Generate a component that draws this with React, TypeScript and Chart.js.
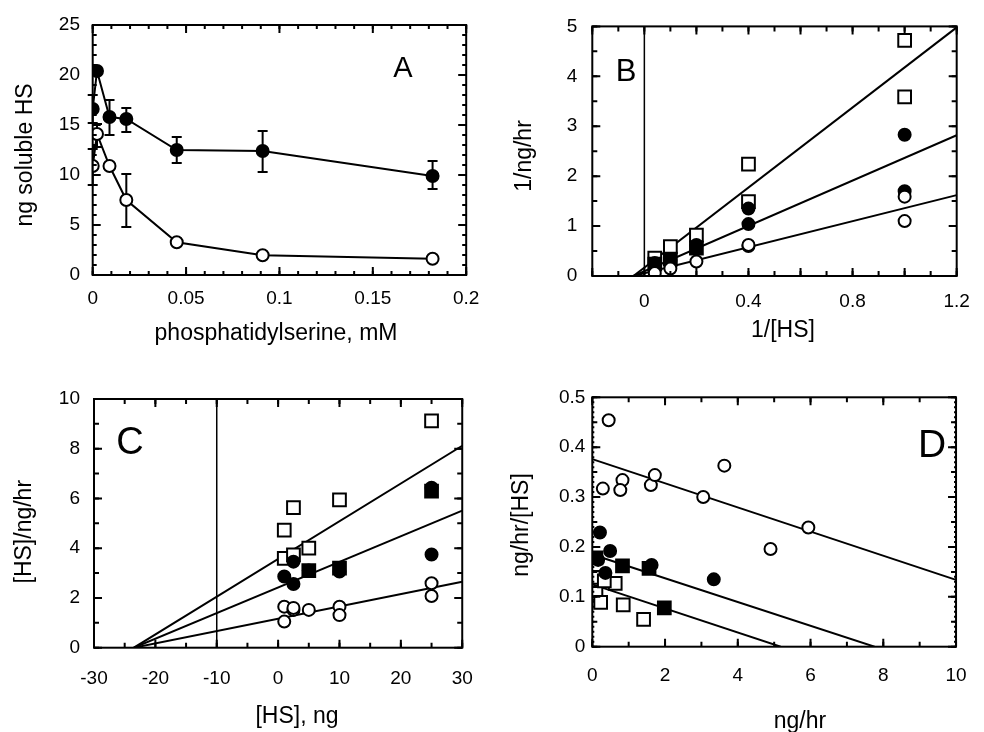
import React, { useEffect, useRef } from 'react';
import { Chart, registerables } from 'chart.js';
Chart.register(...registerables);

const FONT = '"Liberation Sans", Arial, Helvetica, sans-serif';

// ---------------- Panel A ----------------
const psConcA = [0, 0.0023, 0.009, 0.018, 0.045, 0.091, 0.182];
const solubleFilledA = [16.6, 20.4, 15.8, 15.6, 12.5, 12.4, 9.9];
const solubleOpenA = [10.9, 14.1, 10.9, 7.5, 3.27, 1.97, 1.63];
const filledHiA = [18.0, null, 17.5, 16.7, 13.8, 14.4, 11.4];
const filledLoA = [15.2, null, 14.0, 14.3, 11.2, 10.3, 8.6];
const openHiA = [12.6, 15.1, null, 10.1, null, null, null];
const openLoA = [9.0, 12.8, null, 4.8, null, null, null];
const xTicksA = [0, 0.05, 0.1, 0.15, 0.2];
const xTickLabelsA = ['0', '0.05', '0.1', '0.15', '0.2'];
const yTicksA = [0, 5, 10, 15, 20, 25];
const yTickLabelsA = ['0', '5', '10', '15', '20', '25'];

// ---------------- Panel B (1/v vs 1/[HS]) ----------------
const openSqXB = [1, 1, 0.4, 0.4, 0.2, 0.1, 0.04];
const openSqYB = [4.72, 3.59, 2.24, 1.49, 0.82, 0.59, 0.36];
const filledSqXB = [0.2, 0.1, 0.04];
const filledSqYB = [0.56, 0.34, 0.24];
const filledCircXB = [1, 1, 0.4, 0.4, 0.2, 0.1, 0.04];
const filledCircYB = [2.83, 1.7, 1.35, 1.04, 0.62, 0.31, 0.26];
const openCircXB = [1, 1, 0.4, 0.4, 0.2, 0.1, 0.04];
const openCircYB = [1.59, 1.1, 0.6, 0.62, 0.29, 0.15, 0.06];
const fitXB = [-0.042, 1.2];
const fitUpperB = [0, 4.98];
const fitMiddleB = [0, 2.82];
const fitLowerB = [0, 1.62];
const refXB = [0, 0];
const refYB = [0, 5];
const xTicksB = [0, 0.4, 0.8, 1.2];
const xTickLabelsB = ['0', '0.4', '0.8', '1.2'];
const yTicksB = [0, 1, 2, 3, 4, 5];
const yTickLabelsB = ['0', '1', '2', '3', '4', '5'];

// ---------------- Panel C ([HS]/v vs [HS]) ----------------
const openSqXC = [1, 1, 2.5, 2.5, 5, 10, 25];
const openSqYC = [4.73, 3.59, 5.63, 3.73, 4.0, 5.94, 9.12];
const filledSqXC = [5, 10, 25];
const filledSqYC = [3.1, 3.2, 6.3];
const filledCircXC = [1, 2.5, 2.5, 5, 10, 25, 25];
const filledCircYC = [2.86, 3.46, 2.56, 3.1, 3.06, 3.75, 6.43];
const openCircXC = [1, 1, 2.5, 2.5, 5, 10, 10, 25, 25];
const openCircYC = [1.65, 1.05, 1.52, 1.6, 1.52, 1.65, 1.31, 2.59, 2.08];
const fitXC = [-23.5, 30];
const fitUpperC = [0, 8.12];
const fitMiddleC = [0, 5.51];
const fitLowerC = [0, 2.65];
const refXC = [-10, -10];
const refYC = [0, 10];
const xTicksC = [-30, -20, -10, 0, 10, 20, 30];
const xTickLabelsC = ['-30', '-20', '-10', '0', '10', '20', '30'];
const yTicksC = [0, 2, 4, 6, 8, 10];
const yTickLabelsC = ['0', '2', '4', '6', '8', '10'];

// ---------------- Panel D (v/[HS] vs v) ----------------
const openCircXD = [0.45, 0.29, 0.83, 0.77, 1.61, 1.72, 3.05, 3.63, 4.9, 5.94];
const openCircYD = [0.454, 0.317, 0.334, 0.314, 0.324, 0.344, 0.3, 0.363, 0.196, 0.239];
const filledCircXD = [0.21, 0.49, 0.16, 0.36, 1.63, 3.34];
const filledCircYD = [0.229, 0.192, 0.174, 0.148, 0.164, 0.135];
const filledSqXD = [0.83, 1.56, 1.98, 0.1];
const filledSqYD = [0.162, 0.157, 0.078, 0.178];
const openSqXD = [0.07, 0.1, 0.23, 0.63, 0.85, 1.41, 0.33];
const openSqYD = [0.139, 0.107, 0.089, 0.127, 0.084, 0.055, 0.132];
const fitUpperXD = [0, 10];
const fitUpperYD = [0.376, 0.134];
const fitMiddleXD = [0, 7.76];
const fitMiddleYD = [0.185, 0];
const fitLowerXD = [0, 5.18];
const fitLowerYD = [0.125, 0];
const xTicksD = [0, 2, 4, 6, 8, 10];
const xTickLabelsD = ['0', '2', '4', '6', '8', '10'];
const yTicksD = [0, 0.1, 0.2, 0.3, 0.4, 0.5];
const yTickLabelsD = ['0', '0.1', '0.2', '0.3', '0.4', '0.5'];

// ---------------- helpers ----------------
const pts = (xs: number[], ys: number[]) => xs.map((x, i) => ({ x, y: ys[i] }));

const CIRCLE_R = 6;
const RECT_R = 9;

const marker = (data: any[], style: string, filled: boolean, extra: any = {}) => ({
  data,
  showLine: false,
  pointStyle: style,
  pointRadius: style === 'rect' ? RECT_R : CIRCLE_R,
  pointHoverRadius: style === 'rect' ? RECT_R : CIRCLE_R,
  pointBackgroundColor: filled ? '#000' : '#fff',
  pointBorderColor: '#000',
  pointBorderWidth: 2,
  pointHoverBorderWidth: 2,
  borderColor: '#000',
  ...extra,
});

const fitLine = (data: any[], w = 2) => ({
  data,
  showLine: true,
  pointRadius: 0,
  pointHoverRadius: 0,
  borderColor: '#000',
  borderWidth: w,
  fill: false,
});

const decorPlugin = {
  id: 'decor',
  beforeDatasetsDraw(chart: any) {
    const { ctx, scales } = chart;
    ctx.save();
    ctx.strokeStyle = '#000';
    ctx.lineWidth = 2;
    chart.data.datasets.forEach((ds: any) => {
      if (!ds.errHi && !ds.errLo) return;
      ds.data.forEach((p: any, i: number) => {
        const px = scales.x.getPixelForValue(p.x);
        const py = scales.y.getPixelForValue(p.y);
        [ds.errHi?.[i], ds.errLo?.[i]].forEach((b: any) => {
          if (b === null || b === undefined) return;
          const pb = scales.y.getPixelForValue(b);
          ctx.beginPath();
          ctx.moveTo(px, py);
          ctx.lineTo(px, pb);
          ctx.moveTo(px - 5, pb);
          ctx.lineTo(px + 5, pb);
          ctx.stroke();
        });
      });
    });
    ctx.restore();
  },
  afterDraw(chart: any, _args: any, opts: any) {
    const { ctx, chartArea: a, scales } = chart;
    ctx.save();
    ctx.strokeStyle = '#000';
    ctx.lineWidth = 2;
    ctx.strokeRect(a.left, a.top, a.right - a.left, a.bottom - a.top);
    ctx.lineWidth = 2;
    const drawTicks = (axis: 'x' | 'y', step: number, len: number) => {
      const s = scales[axis];
      const k0 = Math.ceil(s.min / step - 1e-6);
      const k1 = Math.floor(s.max / step + 1e-6);
      ctx.beginPath();
      for (let k = k0; k <= k1; k++) {
        const p = s.getPixelForValue(k * step);
        if (axis === 'x') {
          ctx.moveTo(p, a.bottom);
          ctx.lineTo(p, a.bottom - len);
          ctx.moveTo(p, a.top);
          ctx.lineTo(p, a.top + len);
        } else {
          ctx.moveTo(a.left, p);
          ctx.lineTo(a.left + len, p);
          ctx.moveTo(a.right, p);
          ctx.lineTo(a.right - len, p);
        }
      }
      ctx.stroke();
    };
    (opts.ticks || []).forEach((t: any) => drawTicks(t[0], t[1], t[2]));

    ctx.fillStyle = '#000';
    ctx.textAlign = 'center';
    ctx.textBaseline = 'middle';
    if (opts.letter) {
      ctx.font = `${opts.letter.size}px ${FONT}`;
      ctx.fillText(opts.letter.text, opts.letter.x, opts.letter.y);
    }
    ctx.font = `23px ${FONT}`;
    if (opts.xTitle) ctx.fillText(opts.xTitle.text, opts.xTitle.x, opts.xTitle.y);
    if (opts.yTitle) {
      ctx.save();
      ctx.translate(opts.yTitle.x, opts.yTitle.y);
      ctx.rotate(-Math.PI / 2);
      ctx.fillText(opts.yTitle.text, 0, 0);
      ctx.restore();
    }
    ctx.restore();
  },
};

function makeConfig(p: any) {
  const tickFont = { family: FONT, size: 19 };
  return {
    type: 'scatter',
    data: { datasets: p.datasets },
    plugins: [decorPlugin],
    options: {
      animation: false,
      responsive: false,
      events: [],
      layout: { padding: { left: 0, bottom: 0, top: p.padTop, right: p.padRight } },
      plugins: {
        legend: { display: false },
        tooltip: { enabled: false },
        decor: p.decor,
      },
      scales: {
        x: {
          type: 'linear',
          min: p.xMin,
          max: p.xMax,
          grid: { display: false, drawTicks: false },
          border: { display: false },
          ticks: {
            font: tickFont,
            color: '#000',
            padding: p.xTickPad,
            autoSkip: false,
            maxRotation: 0,
            minRotation: 0,
            callback: (_v: any, i: number) => p.xLabels[i],
          },
          afterBuildTicks: (s: any) => {
            s.ticks = p.xTicks.map((v: number) => ({ value: v }));
          },
          afterFit: (s: any) => {
            s.height = p.xAxisH;
          },
        },
        y: {
          type: 'linear',
          min: p.yMin,
          max: p.yMax,
          grid: { display: false, drawTicks: false },
          border: { display: false },
          ticks: {
            font: tickFont,
            color: '#000',
            padding: p.yTickPad,
            autoSkip: false,
            callback: (_v: any, i: number) => p.yLabels[i],
          },
          afterBuildTicks: (s: any) => {
            s.ticks = p.yTicks.map((v: number) => ({ value: v }));
          },
          afterFit: (s: any) => {
            s.width = p.yAxisW;
          },
        },
      },
    },
  };
}

const configA = () =>
  makeConfig({
    datasets: [
      marker(pts(psConcA, solubleOpenA), 'circle', false, {
        showLine: true,
        borderWidth: 2,
        errHi: openHiA,
        errLo: openLoA,
      }),
      marker(pts(psConcA, solubleFilledA), 'circle', true, {
        showLine: true,
        borderWidth: 2,
        errHi: filledHiA,
        errLo: filledLoA,
      }),
    ],
    xMin: 0, xMax: 0.2, yMin: 0, yMax: 25,
    xTicks: xTicksA, xLabels: xTickLabelsA, yTicks: yTicksA, yLabels: yTickLabelsA,
    padTop: 25, padRight: 25.3, yAxisW: 92.7, xAxisH: 91, xTickPad: 12.6, yTickPad: 12.7,
    decor: {
      ticks: [['x', 0.05, 8], ['x', 0.01, 4], ['y', 5, 8], ['y', 1, 4]],
      letter: { text: 'A', x: 403, y: 69, size: 29 },
      xTitle: { text: 'phosphatidylserine, mM', x: 276, y: 334 },
      yTitle: { text: 'ng soluble HS', x: 26, y: 155 },
    },
  });

const configB = () =>
  makeConfig({
    datasets: [
      marker(pts(openCircXB, openCircYB), 'circle', false),
      marker(pts(filledCircXB, filledCircYB), 'circle', true),
      marker(pts(filledSqXB, filledSqYB), 'rect', true),
      marker(pts(openSqXB, openSqYB), 'rect', false),
      fitLine(pts(fitXB, fitUpperB)),
      fitLine(pts(fitXB, fitMiddleB)),
      fitLine(pts(fitXB, fitLowerB)),
      fitLine(pts(refXB, refYB), 1.5),
    ],
    xMin: -0.2, xMax: 1.2, yMin: 0, yMax: 5,
    xTicks: xTicksB, xLabels: xTickLabelsB, yTicks: yTicksB, yLabels: yTickLabelsB,
    padTop: 25.7, padRight: 18.3, yAxisW: 100.3, xAxisH: 90, xTickPad: 14.1, yTickPad: 15,
    decor: {
      ticks: [['x', 0.2, 8], ['x', 0.1, 5], ['y', 1, 8], ['y', 0.5, 5]],
      letter: { text: 'B', x: 134, y: 72.5, size: 31 },
      xTitle: { text: '1/[HS]', x: 291, y: 331 },
      yTitle: { text: '1/ng/hr', x: 33, y: 156 },
    },
  });

const configC = () =>
  makeConfig({
    datasets: [
      marker(pts(openCircXC, openCircYC), 'circle', false),
      marker(pts(filledCircXC, filledCircYC), 'circle', true),
      marker(pts(filledSqXC, filledSqYC), 'rect', true),
      marker(pts(openSqXC, openSqYC), 'rect', false),
      fitLine(pts(fitXC, fitUpperC)),
      fitLine(pts(fitXC, fitMiddleC)),
      fitLine(pts(fitXC, fitLowerC)),
      fitLine(pts(refXC, refYC), 1.5),
    ],
    xMin: -30, xMax: 30, yMin: 0, yMax: 10,
    xTicks: xTicksC, xLabels: xTickLabelsC, yTicks: yTicksC, yLabels: yTickLabelsC,
    padTop: 33, padRight: 23.7, yAxisW: 94, xAxisH: 84.3, xTickPad: 19.2, yTickPad: 14,
    decor: {
      ticks: [['x', 10, 8], ['x', 5, 5], ['y', 2, 8], ['y', 1, 5]],
      letter: { text: 'C', x: 130, y: 78, size: 38 },
      xTitle: { text: '[HS], ng', x: 297, y: 350.7 },
      yTitle: { text: '[HS]/ng/hr', x: 25, y: 165.7 },
    },
  });

const configD = () =>
  makeConfig({
    datasets: [
      marker(pts(openCircXD, openCircYD), 'circle', false),
      marker(pts(filledCircXD, filledCircYD), 'circle', true),
      marker(pts(filledSqXD, filledSqYD), 'rect', true),
      marker(pts(openSqXD, openSqYD), 'rect', false),
      fitLine(pts(fitUpperXD, fitUpperYD)),
      fitLine(pts(fitMiddleXD, fitMiddleYD)),
      fitLine(pts(fitLowerXD, fitLowerYD)),
    ],
    xMin: 0, xMax: 10, yMin: 0, yMax: 0.5,
    xTicks: xTicksD, xLabels: xTickLabelsD, yTicks: yTicksD, yLabels: yTickLabelsD,
    padTop: 31.3, padRight: 16.7, yAxisW: 100.3, xAxisH: 85.3, xTickPad: 17.4, yTickPad: 7,
    decor: {
      ticks: [['x', 2, 8], ['x', 1, 5], ['y', 0.1, 8], ['y', 0.05, 5], ['y', 0.01, 2]],
      letter: { text: 'D', x: 440, y: 80, size: 39 },
      xTitle: { text: 'ng/hr', x: 308, y: 356 },
      yTitle: { text: 'ng/hr/[HS]', x: 29.7, y: 159 },
    },
  });

function Panel({ make, left, top }: { make: () => any; left: number; top: number }) {
  const ref = useRef<HTMLCanvasElement | null>(null);
  useEffect(() => {
    const chart = new Chart(ref.current as HTMLCanvasElement, make());
    return () => chart.destroy();
  }, [make]);
  return (
    <canvas
      ref={ref}
      width={492}
      height={366}
      style={{ position: 'absolute', left, top, width: 492, height: 366 }}
    />
  );
}

export default function App() {
  return (
    <div
      style={{
        position: 'absolute',
        left: 0,
        top: 0,
        width: 984,
        height: 732,
        background: '#fff',
        overflow: 'hidden',
      }}
    >
      <Panel make={configA} left={0} top={0} />
      <Panel make={configB} left={492} top={0} />
      <Panel make={configC} left={0} top={366} />
      <Panel make={configD} left={492} top={366} />
    </div>
  );
}
